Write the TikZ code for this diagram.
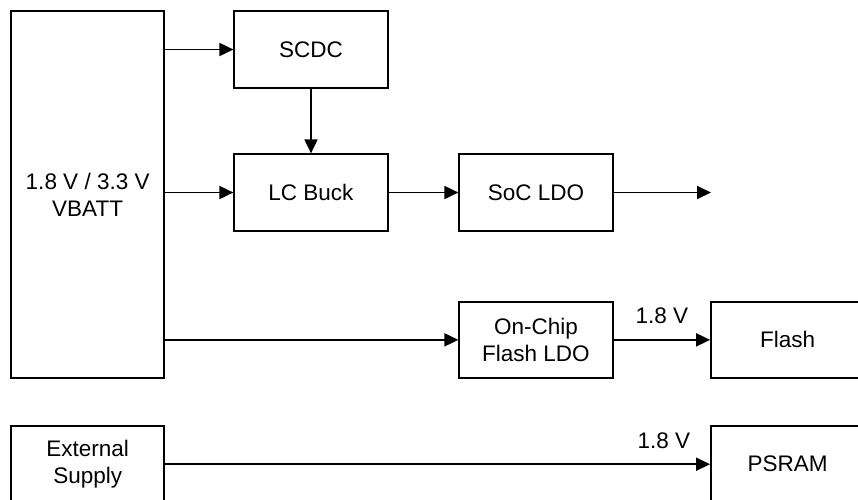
\documentclass[tikz,border=0pt]{standalone}
\usepackage{fontspec}
\setmainfont{Liberation Sans}
\usetikzlibrary{arrows.meta}
\begin{document}
\begin{tikzpicture}[x=1pt,y=-1pt,
  blk/.style={draw=black,line width=1.8pt,minimum width=153.4pt,minimum height=76.4pt,inner sep=0pt,align=center,font=\fontsize{22.5}{27}\selectfont},
  tall/.style={blk,minimum height=367pt},
  arr/.style={line width=1.8pt,-{Triangle[length=14pt,width=13pt]}},
  lbl/.style={font=\fontsize{22.5}{27}\selectfont,inner sep=0pt}]
\useasboundingbox (0,0) rectangle (858,499);
\clip (0,0) rectangle (858,499);
\node[tall] (vbatt) at (87.65,194.5) {1.8 V / 3.3 V\\VBATT};
\node[blk] (scdc) at (311,49.5) {SCDC};
\node[blk] (lcbuck) at (311,192.5) {LC Buck};
\node[blk] (soc) at (536,192.5) {SoC LDO};
\node[blk] (fldo) at (536,339.85) {On-Chip\\Flash LDO};
\node[blk] (flash) at (787.7,339.85) {Flash};
\node[blk] (ext) at (87.65,464.2) {External\\Supply};
\node[blk] (psram) at (787.7,464.2) {PSRAM};
\coordinate (socout) at (711,192.5);
\draw[arr] (scdc.west -| vbatt.east) -- (scdc.west);
\draw[arr] (lcbuck.west -| vbatt.east) -- (lcbuck.west);
\draw[arr] (fldo.west -| vbatt.east) -- (fldo.west);
\draw[arr] (scdc.south) -- (lcbuck.north);
\draw[arr] (lcbuck.east) -- (soc.west);
\draw[arr] (soc.east) -- (socout);
\draw[arr] (fldo.east) -- node[lbl,above=15pt] (l1) {1.8 V} (flash.west);
\draw[arr] (ext.east) -- node[lbl,above=15pt,pos=0.915] (l2) {1.8 V} (psram.west);
\end{tikzpicture}
\end{document}
